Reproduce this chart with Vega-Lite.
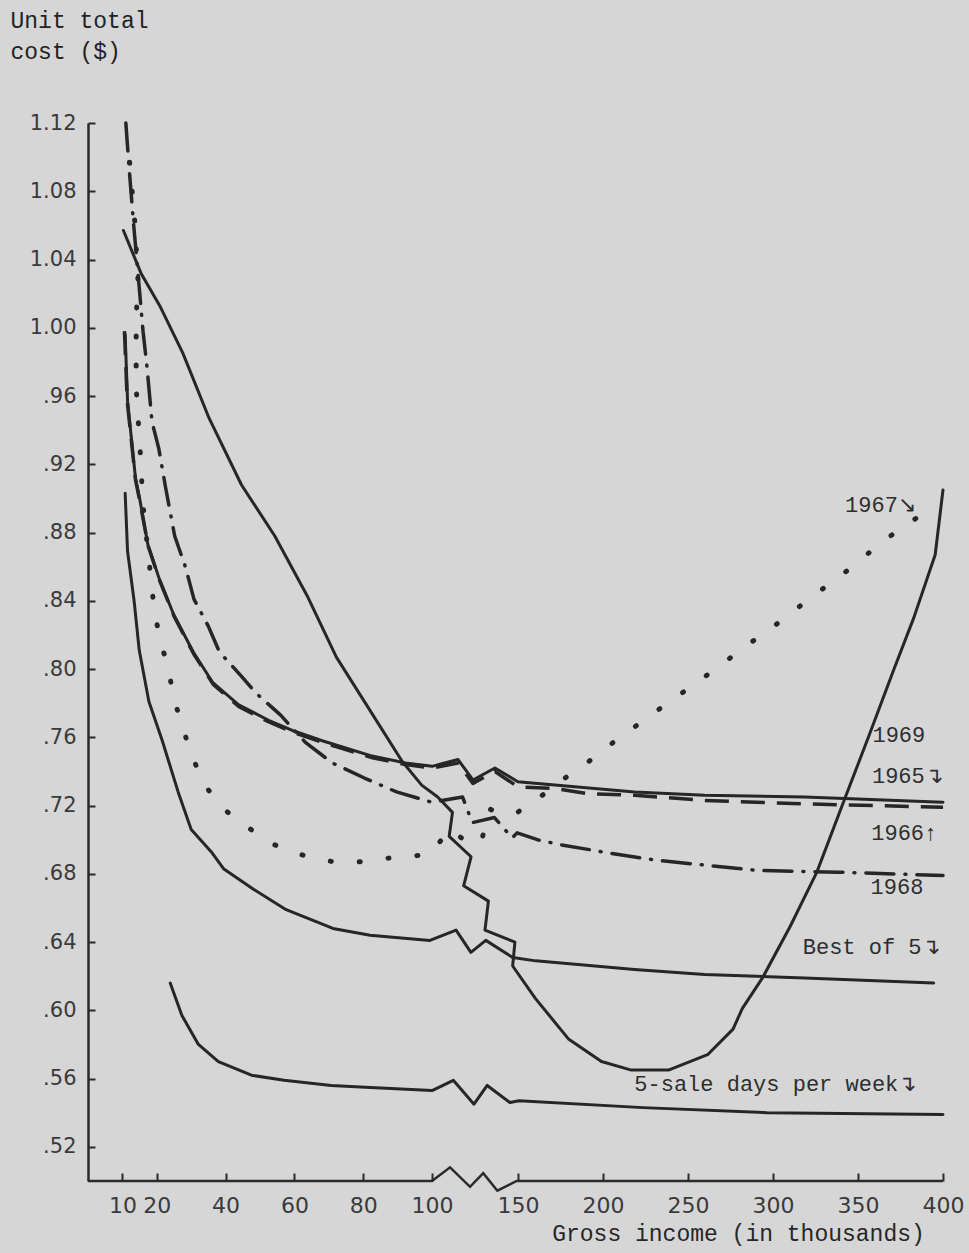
{
  "$schema": "https://vega.github.io/schema/vega-lite/v6.json",
  "width": 855,
  "height": 1058,
  "autosize": {"type": "none"},
  "padding": {"left": 88, "top": 123, "right": 26, "bottom": 72},
  "background": "#d6d6d6",
  "config": {"view": {"stroke": null}, "axis": {"grid": false}},
  "datasets": {
    "xaxis": [
      {"i": 0, "x": 0, "y": 0.5}, {"i": 1, "x": 100, "y": 0.5}, {"i": 2, "x": 110.5, "y": 0.508},
      {"i": 3, "x": 122.1, "y": 0.4966}, {"i": 4, "x": 129.8, "y": 0.5046}, {"i": 5, "x": 138, "y": 0.4943},
      {"i": 6, "x": 149.2, "y": 0.5}, {"i": 7, "x": 400, "y": 0.5}
    ],
    "curves": [
      {"s": "1969", "i": 0, "x": 10.3, "y": 1.057}, {"s": "1969", "i": 1, "x": 15.4, "y": 1.032},
      {"s": "1969", "i": 2, "x": 21.1, "y": 1.012}, {"s": "1969", "i": 3, "x": 27.6, "y": 0.985},
      {"s": "1969", "i": 4, "x": 35.2, "y": 0.947}, {"s": "1969", "i": 5, "x": 44.6, "y": 0.908},
      {"s": "1969", "i": 6, "x": 54.3, "y": 0.878}, {"s": "1969", "i": 7, "x": 63.7, "y": 0.843},
      {"s": "1969", "i": 8, "x": 72.2, "y": 0.807}, {"s": "1969", "i": 9, "x": 84.4, "y": 0.768},
      {"s": "1969", "i": 10, "x": 91.3, "y": 0.746}, {"s": "1969", "i": 11, "x": 97.0, "y": 0.732},
      {"s": "1969", "i": 12, "x": 103.3, "y": 0.725}, {"s": "1969", "i": 13, "x": 111.9, "y": 0.716},
      {"s": "1969", "i": 14, "x": 110, "y": 0.702}, {"s": "1969", "i": 15, "x": 122.7, "y": 0.690},
      {"s": "1969", "i": 16, "x": 118.4, "y": 0.673}, {"s": "1969", "i": 17, "x": 132.8, "y": 0.664},
      {"s": "1969", "i": 18, "x": 130.8, "y": 0.647}, {"s": "1969", "i": 19, "x": 148.2, "y": 0.640},
      {"s": "1969", "i": 20, "x": 146.9, "y": 0.626}, {"s": "1969", "i": 21, "x": 160.2, "y": 0.607},
      {"s": "1969", "i": 22, "x": 179.9, "y": 0.583}, {"s": "1969", "i": 23, "x": 199.1, "y": 0.570},
      {"s": "1969", "i": 24, "x": 216.7, "y": 0.565}, {"s": "1969", "i": 25, "x": 238.5, "y": 0.565},
      {"s": "1969", "i": 26, "x": 261.5, "y": 0.574}, {"s": "1969", "i": 27, "x": 276.5, "y": 0.589},
      {"s": "1969", "i": 28, "x": 281.9, "y": 0.601}, {"s": "1969", "i": 29, "x": 293.8, "y": 0.619},
      {"s": "1969", "i": 30, "x": 310, "y": 0.649}, {"s": "1969", "i": 31, "x": 325.8, "y": 0.681},
      {"s": "1969", "i": 32, "x": 342.2, "y": 0.724}, {"s": "1969", "i": 33, "x": 356.1, "y": 0.760},
      {"s": "1969", "i": 34, "x": 370.8, "y": 0.799}, {"s": "1969", "i": 35, "x": 382.8, "y": 0.830},
      {"s": "1969", "i": 36, "x": 395.4, "y": 0.867}, {"s": "1969", "i": 37, "x": 400, "y": 0.905},

      {"s": "1965", "i": 0, "x": 10.8, "y": 0.996}, {"s": "1965", "i": 1, "x": 11.5, "y": 0.957},
      {"s": "1965", "i": 2, "x": 13.8, "y": 0.912}, {"s": "1965", "i": 3, "x": 15.1, "y": 0.899},
      {"s": "1965", "i": 4, "x": 17.4, "y": 0.873}, {"s": "1965", "i": 5, "x": 20.7, "y": 0.853},
      {"s": "1965", "i": 6, "x": 24.9, "y": 0.832}, {"s": "1965", "i": 7, "x": 30.6, "y": 0.810},
      {"s": "1965", "i": 8, "x": 36.3, "y": 0.792}, {"s": "1965", "i": 9, "x": 43.8, "y": 0.779},
      {"s": "1965", "i": 10, "x": 52.5, "y": 0.770}, {"s": "1965", "i": 11, "x": 59.4, "y": 0.764},
      {"s": "1965", "i": 12, "x": 68.1, "y": 0.758}, {"s": "1965", "i": 13, "x": 82.6, "y": 0.749},
      {"s": "1965", "i": 14, "x": 92.3, "y": 0.745}, {"s": "1965", "i": 15, "x": 100, "y": 0.743},
      {"s": "1965", "i": 16, "x": 115.1, "y": 0.747}, {"s": "1965", "i": 17, "x": 123.8, "y": 0.735},
      {"s": "1965", "i": 18, "x": 136.6, "y": 0.742}, {"s": "1965", "i": 19, "x": 149.9, "y": 0.734},
      {"s": "1965", "i": 20, "x": 161.6, "y": 0.733}, {"s": "1965", "i": 21, "x": 218.6, "y": 0.728},
      {"s": "1965", "i": 22, "x": 259.8, "y": 0.726}, {"s": "1965", "i": 23, "x": 318.6, "y": 0.725},
      {"s": "1965", "i": 24, "x": 400, "y": 0.722},

      {"s": "1966", "i": 0, "x": 10.6, "y": 0.998}, {"s": "1966", "i": 1, "x": 11.4, "y": 0.957},
      {"s": "1966", "i": 2, "x": 13.8, "y": 0.911}, {"s": "1966", "i": 3, "x": 15.1, "y": 0.898},
      {"s": "1966", "i": 4, "x": 17.5, "y": 0.872}, {"s": "1966", "i": 5, "x": 20.8, "y": 0.852},
      {"s": "1966", "i": 6, "x": 25.0, "y": 0.831}, {"s": "1966", "i": 7, "x": 30.7, "y": 0.809},
      {"s": "1966", "i": 8, "x": 36.4, "y": 0.791}, {"s": "1966", "i": 9, "x": 43.9, "y": 0.778},
      {"s": "1966", "i": 10, "x": 52.6, "y": 0.769}, {"s": "1966", "i": 11, "x": 59.5, "y": 0.763},
      {"s": "1966", "i": 12, "x": 68.2, "y": 0.757}, {"s": "1966", "i": 13, "x": 82.7, "y": 0.748},
      {"s": "1966", "i": 14, "x": 92.3, "y": 0.744}, {"s": "1966", "i": 15, "x": 100, "y": 0.742},
      {"s": "1966", "i": 16, "x": 115.1, "y": 0.745}, {"s": "1966", "i": 17, "x": 123.8, "y": 0.733},
      {"s": "1966", "i": 18, "x": 136.6, "y": 0.740}, {"s": "1966", "i": 19, "x": 149.9, "y": 0.731},
      {"s": "1966", "i": 20, "x": 171.9, "y": 0.730}, {"s": "1966", "i": 21, "x": 191.3, "y": 0.727},
      {"s": "1966", "i": 22, "x": 218.6, "y": 0.726}, {"s": "1966", "i": 23, "x": 259.8, "y": 0.723},
      {"s": "1966", "i": 24, "x": 318.6, "y": 0.721}, {"s": "1966", "i": 25, "x": 400, "y": 0.719},

      {"s": "1968", "i": 0, "x": 11.0, "y": 1.12}, {"s": "1968", "i": 1, "x": 11.9, "y": 1.095},
      {"s": "1968", "i": 2, "x": 13.2, "y": 1.062}, {"s": "1968", "i": 3, "x": 14.7, "y": 1.028},
      {"s": "1968", "i": 4, "x": 16.0, "y": 0.998}, {"s": "1968", "i": 5, "x": 17.1, "y": 0.978},
      {"s": "1968", "i": 6, "x": 18.6, "y": 0.945}, {"s": "1968", "i": 7, "x": 20.6, "y": 0.929},
      {"s": "1968", "i": 8, "x": 22.5, "y": 0.907}, {"s": "1968", "i": 9, "x": 25.2, "y": 0.878},
      {"s": "1968", "i": 10, "x": 28.3, "y": 0.860}, {"s": "1968", "i": 11, "x": 30.8, "y": 0.841},
      {"s": "1968", "i": 12, "x": 35.0, "y": 0.825}, {"s": "1968", "i": 13, "x": 38.2, "y": 0.810},
      {"s": "1968", "i": 14, "x": 44.5, "y": 0.796}, {"s": "1968", "i": 15, "x": 48.8, "y": 0.786},
      {"s": "1968", "i": 16, "x": 56.0, "y": 0.773}, {"s": "1968", "i": 17, "x": 63.2, "y": 0.757},
      {"s": "1968", "i": 18, "x": 71.0, "y": 0.745}, {"s": "1968", "i": 19, "x": 80.5, "y": 0.736},
      {"s": "1968", "i": 20, "x": 89.7, "y": 0.728}, {"s": "1968", "i": 21, "x": 99.9, "y": 0.722},
      {"s": "1968", "i": 22, "x": 117.8, "y": 0.725}, {"s": "1968", "i": 23, "x": 123.4, "y": 0.710},
      {"s": "1968", "i": 24, "x": 136.3, "y": 0.713}, {"s": "1968", "i": 25, "x": 146.6, "y": 0.701},
      {"s": "1968", "i": 26, "x": 149.5, "y": 0.704}, {"s": "1968", "i": 27, "x": 161.4, "y": 0.700},
      {"s": "1968", "i": 28, "x": 175.4, "y": 0.697}, {"s": "1968", "i": 29, "x": 204.7, "y": 0.692},
      {"s": "1968", "i": 30, "x": 231.1, "y": 0.688}, {"s": "1968", "i": 31, "x": 261.1, "y": 0.685},
      {"s": "1968", "i": 32, "x": 290.8, "y": 0.682}, {"s": "1968", "i": 33, "x": 337.8, "y": 0.681},
      {"s": "1968", "i": 34, "x": 400, "y": 0.679},

      {"s": "1967", "i": 0, "x": 12.1, "y": 1.097}, {"s": "1967", "i": 1, "x": 13.6, "y": 1.062},
      {"s": "1967", "i": 2, "x": 14.5, "y": 1.029}, {"s": "1967", "i": 3, "x": 14.0, "y": 1.004},
      {"s": "1967", "i": 4, "x": 14.0, "y": 0.965}, {"s": "1967", "i": 5, "x": 15.5, "y": 0.917},
      {"s": "1967", "i": 6, "x": 15.8, "y": 0.900}, {"s": "1967", "i": 7, "x": 17.8, "y": 0.862},
      {"s": "1967", "i": 8, "x": 19.2, "y": 0.836}, {"s": "1967", "i": 9, "x": 20.8, "y": 0.818},
      {"s": "1967", "i": 10, "x": 23.3, "y": 0.801}, {"s": "1967", "i": 11, "x": 24.9, "y": 0.783},
      {"s": "1967", "i": 12, "x": 27.2, "y": 0.768}, {"s": "1967", "i": 13, "x": 30.0, "y": 0.750},
      {"s": "1967", "i": 14, "x": 33.9, "y": 0.732}, {"s": "1967", "i": 15, "x": 39.4, "y": 0.718},
      {"s": "1967", "i": 16, "x": 46.0, "y": 0.708}, {"s": "1967", "i": 17, "x": 52.1, "y": 0.699},
      {"s": "1967", "i": 18, "x": 58.7, "y": 0.693}, {"s": "1967", "i": 19, "x": 64.2, "y": 0.690},
      {"s": "1967", "i": 20, "x": 71.5, "y": 0.687}, {"s": "1967", "i": 21, "x": 78.7, "y": 0.687},
      {"s": "1967", "i": 22, "x": 85.9, "y": 0.689}, {"s": "1967", "i": 23, "x": 93.6, "y": 0.690},
      {"s": "1967", "i": 24, "x": 99.7, "y": 0.692}, {"s": "1967", "i": 25, "x": 110.1, "y": 0.706},
      {"s": "1967", "i": 26, "x": 118.7, "y": 0.700}, {"s": "1967", "i": 27, "x": 128.5, "y": 0.698},
      {"s": "1967", "i": 28, "x": 133.4, "y": 0.718}, {"s": "1967", "i": 29, "x": 141, "y": 0.715},
      {"s": "1967", "i": 30, "x": 149.7, "y": 0.716}, {"s": "1967", "i": 31, "x": 164.2, "y": 0.726},
      {"s": "1967", "i": 32, "x": 178.8, "y": 0.737}, {"s": "1967", "i": 33, "x": 191.8, "y": 0.746},
      {"s": "1967", "i": 34, "x": 207.3, "y": 0.758}, {"s": "1967", "i": 35, "x": 224, "y": 0.770},
      {"s": "1967", "i": 36, "x": 240.7, "y": 0.782}, {"s": "1967", "i": 37, "x": 256.5, "y": 0.793},
      {"s": "1967", "i": 38, "x": 271.4, "y": 0.804}, {"s": "1967", "i": 39, "x": 286.2, "y": 0.815},
      {"s": "1967", "i": 40, "x": 300.4, "y": 0.825}, {"s": "1967", "i": 41, "x": 314.7, "y": 0.836},
      {"s": "1967", "i": 42, "x": 331.9, "y": 0.849}, {"s": "1967", "i": 43, "x": 346.8, "y": 0.860},
      {"s": "1967", "i": 44, "x": 364.6, "y": 0.875}, {"s": "1967", "i": 45, "x": 376.5, "y": 0.883},
      {"s": "1967", "i": 46, "x": 386.5, "y": 0.890}, {"s": "1967", "i": 47, "x": 395.9, "y": 0.896},

      {"s": "best", "i": 0, "x": 10.8, "y": 0.903}, {"s": "best", "i": 1, "x": 11.5, "y": 0.869},
      {"s": "best", "i": 2, "x": 13.4, "y": 0.840}, {"s": "best", "i": 3, "x": 14.9, "y": 0.811},
      {"s": "best", "i": 4, "x": 17.7, "y": 0.781}, {"s": "best", "i": 5, "x": 21.6, "y": 0.758},
      {"s": "best", "i": 6, "x": 26.2, "y": 0.728}, {"s": "best", "i": 7, "x": 30.0, "y": 0.706},
      {"s": "best", "i": 8, "x": 35.8, "y": 0.693}, {"s": "best", "i": 9, "x": 39.4, "y": 0.683},
      {"s": "best", "i": 10, "x": 48.1, "y": 0.671}, {"s": "best", "i": 11, "x": 57.6, "y": 0.659},
      {"s": "best", "i": 12, "x": 71.2, "y": 0.648}, {"s": "best", "i": 13, "x": 82.0, "y": 0.644},
      {"s": "best", "i": 14, "x": 99.4, "y": 0.641}, {"s": "best", "i": 15, "x": 114, "y": 0.647},
      {"s": "best", "i": 16, "x": 122.6, "y": 0.634}, {"s": "best", "i": 17, "x": 131.3, "y": 0.641},
      {"s": "best", "i": 18, "x": 146.9, "y": 0.631}, {"s": "best", "i": 19, "x": 160.4, "y": 0.629},
      {"s": "best", "i": 20, "x": 218.5, "y": 0.624}, {"s": "best", "i": 21, "x": 259.8, "y": 0.621},
      {"s": "best", "i": 22, "x": 318.6, "y": 0.619}, {"s": "best", "i": 23, "x": 394.5, "y": 0.616},

      {"s": "five", "i": 0, "x": 23.9, "y": 0.616}, {"s": "five", "i": 1, "x": 27.3, "y": 0.597},
      {"s": "five", "i": 2, "x": 32.1, "y": 0.580}, {"s": "five", "i": 3, "x": 37.9, "y": 0.570},
      {"s": "five", "i": 4, "x": 47.5, "y": 0.562}, {"s": "five", "i": 5, "x": 57.0, "y": 0.559},
      {"s": "five", "i": 6, "x": 70.7, "y": 0.556}, {"s": "five", "i": 7, "x": 80.6, "y": 0.555},
      {"s": "five", "i": 8, "x": 100, "y": 0.553}, {"s": "five", "i": 9, "x": 112.4, "y": 0.559},
      {"s": "five", "i": 10, "x": 124.4, "y": 0.545}, {"s": "five", "i": 11, "x": 132.1, "y": 0.556},
      {"s": "five", "i": 12, "x": 145.3, "y": 0.546}, {"s": "five", "i": 13, "x": 150.6, "y": 0.547},
      {"s": "five", "i": 14, "x": 223.5, "y": 0.543}, {"s": "five", "i": 15, "x": 296.5, "y": 0.540},
      {"s": "five", "i": 16, "x": 400, "y": 0.539}
    ],
    "labels": [
      {"t": "1967↘", "x": 342.4, "y": 0.892},
      {"t": "1969", "x": 358.5, "y": 0.757},
      {"t": "1965↴", "x": 358.2, "y": 0.733},
      {"t": "1966↑", "x": 357.8, "y": 0.700},
      {"t": "1968", "x": 357.4, "y": 0.668},
      {"t": "Best of 5↴", "x": 317.5, "y": 0.633},
      {"t": "5-sale days per week↴", "x": 218.4, "y": 0.553}
    ]
  },
  "layer": [
    {
      "data": {"name": "xaxis"},
      "mark": {"type": "line", "color": "#2a2a2a", "strokeWidth": 2.5, "strokeJoin": "miter"},
      "encoding": {
        "x": {
          "field": "x", "type": "quantitative",
          "scale": {"domain": [0, 100, 150, 400], "range": [0, 344, 430, 855], "nice": false, "zero": false},
          "axis": {
            "values": [10, 20, 40, 60, 80, 100, 150, 200, 250, 300, 350, 400],
            "domain": false, "tickSize": -8, "tickWidth": 2, "tickColor": "#2a2a2a",
            "labelPadding": 22, "labelFont": "DejaVu Sans", "labelFontSize": 22, "labelColor": "#3a3a3a",
            "labelFlush": false, "labelOverlap": false,
            "title": "Gross income (in thousands)", "titleFont": "Liberation Mono", "titleFontSize": 23,
            "titleFontWeight": "normal", "titleColor": "#262626", "titleX": 650, "titleY": 59,
            "titleAlign": "center", "titleBaseline": "alphabetic", "titleAnchor": null
          }
        },
        "y": {
          "field": "y", "type": "quantitative",
          "scale": {"domain": [0.5, 1.12], "nice": false, "zero": false},
          "axis": {
            "values": [0.52, 0.56, 0.6, 0.64, 0.68, 0.72, 0.76, 0.8, 0.84, 0.88, 0.92, 0.96, 1, 1.04, 1.08, 1.12],
            "domainWidth": 2.5, "domainColor": "#2a2a2a", "tickSize": -7, "tickWidth": 2, "tickColor": "#2a2a2a",
            "labelPadding": 19, "labelFont": "DejaVu Sans", "labelFontSize": 21, "labelColor": "#3a3a3a",
            "labelFlush": false, "labelOverlap": false,
            "labelExpr": "datum.value >= 1 ? format(datum.value, '.2f') : substring(format(datum.value, '.2f'), 1)",
            "title": ["Unit total", "cost ($)"], "titleAngle": 0, "titleAlign": "left", "titleBaseline": "alphabetic",
            "titleX": -78, "titleY": -96, "titleFont": "Liberation Mono", "titleFontSize": 23,
            "titleFontWeight": "normal", "titleLineHeight": 31, "titleColor": "#222222", "titleAnchor": null
          }
        },
        "order": {"field": "i", "type": "quantitative"}
      }
    },
    {
      "data": {"name": "curves"},
      "transform": [{"filter": "datum.s == '1969' || datum.s == '1965' || datum.s == 'best' || datum.s == 'five'"}],
      "mark": {"type": "line", "color": "#262626", "strokeWidth": 3, "strokeJoin": "round", "strokeCap": "round"},
      "encoding": {
        "x": {"field": "x", "type": "quantitative"},
        "y": {"field": "y", "type": "quantitative"},
        "detail": {"field": "s", "type": "nominal"},
        "order": {"field": "i", "type": "quantitative"}
      }
    },
    {
      "data": {"name": "curves"},
      "transform": [{"filter": "datum.s == '1966'"}],
      "mark": {"type": "line", "color": "#262626", "strokeWidth": 3.5, "strokeDash": [24, 12], "strokeJoin": "round"},
      "encoding": {
        "x": {"field": "x", "type": "quantitative"},
        "y": {"field": "y", "type": "quantitative"},
        "order": {"field": "i", "type": "quantitative"}
      }
    },
    {
      "data": {"name": "curves"},
      "transform": [{"filter": "datum.s == '1968'"}],
      "mark": {"type": "line", "color": "#262626", "strokeWidth": 3.5, "strokeDash": [28, 11, 1, 11], "strokeCap": "round", "strokeJoin": "round"},
      "encoding": {
        "x": {"field": "x", "type": "quantitative"},
        "y": {"field": "y", "type": "quantitative"},
        "order": {"field": "i", "type": "quantitative"}
      }
    },
    {
      "data": {"name": "curves"},
      "transform": [{"filter": "datum.s == '1967'"}],
      "mark": {"type": "line", "color": "#262626", "strokeWidth": 5, "strokeDash": [1, 28], "strokeCap": "round", "strokeJoin": "round"},
      "encoding": {
        "x": {"field": "x", "type": "quantitative"},
        "y": {"field": "y", "type": "quantitative"},
        "order": {"field": "i", "type": "quantitative"}
      }
    },
    {
      "data": {"name": "labels"},
      "mark": {"type": "text", "align": "left", "baseline": "alphabetic", "font": "Liberation Mono", "fontSize": 22, "color": "#2e2e2e"},
      "encoding": {
        "x": {"field": "x", "type": "quantitative"},
        "y": {"field": "y", "type": "quantitative"},
        "text": {"field": "t", "type": "nominal"}
      }
    }
  ]
}
